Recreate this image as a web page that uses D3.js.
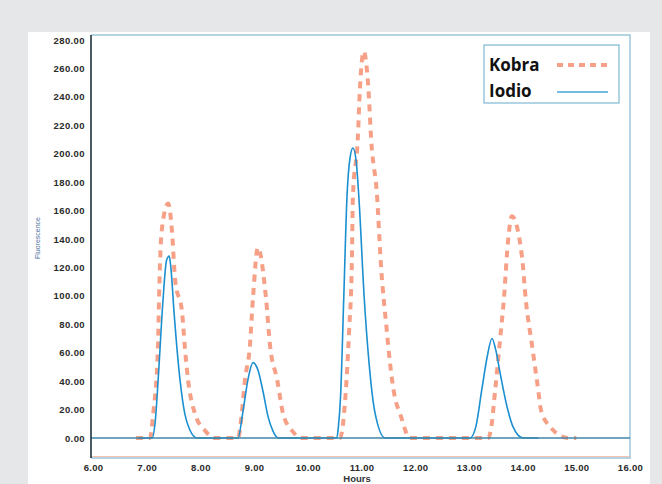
<!DOCTYPE html>
<html><head><meta charset="utf-8">
<script src="https://cdn.jsdelivr.net/npm/d3@7"></script>
<style>
html,body{margin:0;padding:0;background:#e6e7e9;}
svg{display:block;}
</style></head>
<body>
<svg id="chart" width="662" height="484"></svg>
<script>
// ---- data ----
const xTicks = [6, 7, 8, 9, 10, 11, 12, 13, 14, 15, 16];
const yTicks = [0, 20, 40, 60, 80, 100, 120, 140, 160, 180, 200, 220, 240, 260, 280];
const seriesNames = ["Kobra", "Iodio"];

const kobraHours = [6.80,7.06,7.12,7.21,7.23,7.28,7.40,7.47,7.53,7.66,7.71,7.77,7.90,8.09,8.27,
  8.70,8.77,8.83,8.92,8.98,9.07,9.22,9.30,9.43,9.54,9.71,9.89,
  10.60,10.70,10.77,10.82,10.84,10.93,10.97,11.04,11.13,11.18,11.29,11.36,11.47,11.53,11.62,11.72,11.90,
  13.36,13.41,13.49,13.58,13.65,13.73,13.80,13.99,14.06,14.18,14.29,14.34,14.51,14.85,15.00];
const kobraValues = [0,0,17,64,99,146,165,146,111,88,64,41,17,5,0,
  0,17,41,64,99,134,99,64,41,17,5,0,
  0,29,76,123,170,210,245,272,245,210,170,123,76,53,29,17,0,
  0,6,34,69,97,139,156,127,97,64,34,20,8,0,0];

const iodioHours = [6.85,7.10,7.16,7.22,7.30,7.37,7.42,7.45,7.51,7.62,7.71,7.80,7.94,
  8.70,8.79,8.89,8.98,9.07,9.17,9.26,9.35,9.45,
  10.54,10.57,10.61,10.67,10.73,10.79,10.84,10.90,10.95,11.05,11.14,11.25,11.44,
  13.02,13.13,13.24,13.34,13.43,13.50,13.58,13.71,13.82,14.01,14.30];
const iodioValues = [0,0,12,45,95,125,128,120,88,41,17,6,0,
  0,18,42,53,48,32,15,5,0,
  0,8,29,99,170,198,204,195,170,99,53,18,0,
  0,8,34,57,70,62,46,22,8,0,0];

// ---- layout ----
const svg = d3.select("#chart");
const W = 662, H = 484;
const frame = {left: 91, right: 630, top: 35, bottom: 458};
const x = d3.scaleLinear().domain([6, 16]).range([93, 630]);
const y = d3.scaleLinear().domain([0, 280]).range([438, 40]);

const kobraColor = "#f3825f";
const iodioColor = "#1b8fd0";
const font = "'Liberation Sans', Arial, sans-serif";

// white panel
svg.append("rect").attr("x", 28).attr("y", 32).attr("width", 622).attr("height", H - 32).attr("fill", "#ffffff");

// frame (top, right, bottom)
svg.append("path")
  .attr("d", `M${frame.left},${frame.top}H${frame.right}V${frame.bottom}H${frame.left}`)
  .attr("fill", "none").attr("stroke", "#9cc6db").attr("stroke-width", 1.5);
svg.append("line").attr("x1", frame.left).attr("x2", frame.right)
  .attr("y1", frame.bottom - 1.5).attr("y2", frame.bottom - 1.5)
  .attr("stroke", "#f6c2b0").attr("stroke-width", 1);

// y axis
const yAxis = d3.axisLeft(y).tickValues(yTicks).tickFormat(d3.format(".2f")).tickSize(0).tickPadding(5);
const gy = svg.append("g").attr("transform", `translate(${frame.left - 1},0)`).call(yAxis);
gy.select(".domain").remove();
gy.selectAll("text").attr("font-family", font).attr("font-size", 9.5).attr("font-weight", "bold")
  .attr("fill", "#2a2a2a").attr("letter-spacing", 0.4);

// x axis
const xAxis = d3.axisBottom(x).tickValues(xTicks).tickFormat(d3.format(".2f")).tickSize(0).tickPadding(6);
const gx = svg.append("g").attr("transform", `translate(0,${frame.bottom})`).call(xAxis);
gx.select(".domain").remove();
gx.selectAll("text").attr("font-family", font).attr("font-size", 9.5).attr("font-weight", "bold")
  .attr("fill", "#2a2a2a").attr("letter-spacing", 0.3);

// axis titles
svg.append("text").attr("x", 357).attr("y", 482).attr("text-anchor", "middle")
  .attr("font-family", font).attr("font-size", 9.5).attr("font-weight", "bold").attr("fill", "#333")
  .text("Hours");
svg.append("text").attr("transform", "translate(40,238) rotate(-90)").attr("text-anchor", "middle")
  .attr("font-family", font).attr("font-size", 7).attr("fill", "#4a6f9a")
  .text("Fluorescence");

// series
const line = d3.line().x(d => x(d[0])).y(d => y(d[1])).curve(d3.curveMonotoneX);
const kobra = kobraHours.map((h, i) => [h, kobraValues[i]]);
const iodio = iodioHours.map((h, i) => [h, iodioValues[i]]);

svg.append("path").datum(kobra).attr("d", line).attr("fill", "none")
  .attr("stroke", kobraColor).attr("stroke-opacity", 0.75).attr("stroke-width", 4)
  .attr("stroke-dasharray", "7,6");

svg.append("path").datum(iodio).attr("d", line).attr("fill", "none")
  .attr("stroke", iodioColor).attr("stroke-width", 1.6);

// zero line
svg.append("line").attr("x1", frame.left).attr("x2", frame.right).attr("y1", y(0)).attr("y2", y(0))
  .attr("stroke", "#3f87a8").attr("stroke-width", 1.6);

// left axis line
svg.append("line").attr("x1", frame.left).attr("x2", frame.left).attr("y1", frame.top).attr("y2", frame.bottom)
  .attr("stroke", "#1d3340").attr("stroke-width", 1.6);

// legend
const lg = svg.append("g");
lg.append("rect").attr("x", 484).attr("y", 45).attr("width", 135).attr("height", 58)
  .attr("fill", "#ffffff").attr("stroke", "#7fb7d2").attr("stroke-width", 1.2);
const legendColors = [kobraColor, iodioColor];
seriesNames.forEach((name, i) => {
  const ty = 71 + i * 26;
  lg.append("text").attr("x", 489).attr("y", ty).attr("font-family", "'Open Sans', 'DejaVu Sans', sans-serif")
    .attr("font-size", 17).attr("font-weight", "bold").attr("fill", "#111").text(name);
  const ly = i === 0 ? 65 : 92;
  const l = lg.append("line").attr("x1", 557).attr("x2", 608).attr("y1", ly).attr("y2", ly)
    .attr("stroke", legendColors[i]);
  if (i === 0) l.attr("stroke-width", 4).attr("stroke-opacity", 0.75).attr("stroke-dasharray", "6,5");
  else l.attr("stroke-width", 1.6).attr("stroke-opacity", 0.8);
});
</script>
</body></html>
